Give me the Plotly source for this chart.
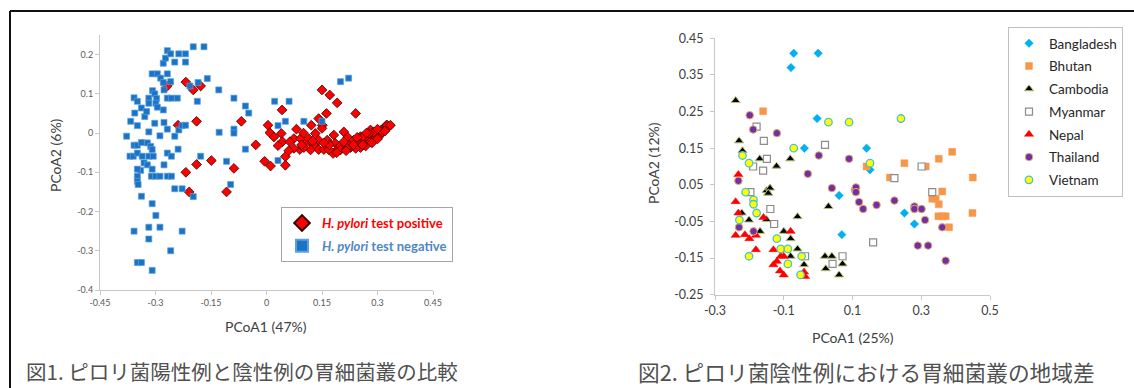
import plotly.graph_objects as go

# ---------------- Figure 1 data (PCoA, H. pylori positive / negative) ----------------
pos_x = [-0.268, -0.218, -0.198, -0.178, -0.239, -0.189, -0.068, -0.029, -0.218, -0.189, -0.149, -0.088, -0.209, -0.108,
         0.150, 0.171, 0.191, 0.241, 0.162, 0.141, 0.151, 0.121, 0.042, 0.004, 0.009, 0.020, 0.040, 0.043, 0.031,
         0.081, 0.074, 0.092, 0.063, 0.090, 0.074, 0.051, 0.051, -0.005, 0.011,
         0.110, 0.128, 0.141, 0.155, 0.164, 0.182, 0.186, 0.191, 0.200, 0.209, 0.220, 0.227, 0.236, 0.245, 0.254,
         0.263, 0.272, 0.281, 0.290, 0.281, 0.299, 0.308, 0.317, 0.324, 0.330, 0.310, 0.304, 0.254, 0.227, 0.200,
         0.180, 0.168, 0.119, 0.101, 0.114, 0.141, 0.164, 0.132, 0.150, 0.209, 0.218, 0.241, 0.268, 0.294, 0.313,
         0.326, 0.290, 0.277, 0.261, 0.245, 0.190, 0.215, 0.235, 0.260, 0.285, 0.300, 0.320, 0.335, 0.300, 0.270,
         0.170, 0.155, 0.125, 0.095, 0.100, 0.060]
pos_y = [0.120, 0.130, 0.110, 0.120, 0.020, 0.030, 0.030, -0.030, -0.100, -0.080, -0.070, -0.090, -0.150, -0.150,
         0.110, 0.097, 0.077, 0.050, 0.050, 0.037, 0.020, 0.020, 0.059, 0.020, 0.001, -0.010, -0.001, -0.022, -0.032,
         0.010, -0.014, -0.014, -0.022, -0.042, -0.039, -0.060, -0.082, -0.072, -0.084,
         -0.022, -0.031, -0.042, -0.042, -0.022, -0.005, -0.026, -0.043, -0.033, 0.003, -0.011, -0.026, -0.018, -0.031, -0.009,
         -0.022, -0.011, -0.022, -0.005, 0.008, 0.003, -0.002, 0.012, 0.020, 0.016, 0.008, -0.009, -0.037, -0.037, -0.043,
         -0.052, -0.042, -0.043, -0.037, -0.014, -0.018, -0.018, -0.001, 0.012, -0.022, -0.039, -0.039, -0.033, -0.014, 0.003,
         0.020, 0.003, -0.001, -0.009, -0.011, -0.050, -0.045, -0.030, -0.030, -0.025, -0.015, 0.005, 0.020, 0.010, 0.000,
         -0.030, -0.025, -0.020, -0.030, 0.000, -0.045]

neg_x = [-0.378, -0.367, -0.358, -0.349, -0.356, -0.349, -0.338, -0.329, -0.324, -0.318, -0.318, -0.308, -0.302, -0.297,
         -0.299, -0.295, -0.309, -0.295, -0.286, -0.279, -0.268, -0.259, -0.279, -0.273, -0.268, -0.259, -0.237, -0.248,
         -0.219, -0.219, -0.198, -0.169, -0.207, -0.185, -0.160, -0.187, -0.178, -0.129, -0.088, -0.057, -0.048, -0.277,
         -0.268, -0.257, -0.241, -0.279, -0.277, -0.268, -0.248, -0.237, -0.228, -0.219, -0.318, -0.288, -0.302, -0.128,
         -0.088, -0.088, -0.057, -0.239,
         -0.369, -0.360, -0.358, -0.349, -0.338, -0.349, -0.336, -0.318, -0.306, -0.322, -0.313, -0.309, -0.331, -0.322,
         -0.340, -0.349, -0.309, -0.311, -0.300, -0.288, -0.268, -0.257, -0.277, -0.268, -0.257, -0.108, -0.097, -0.349,
         -0.349, -0.347, -0.338,
         -0.299, -0.358, -0.318, -0.288, -0.318, -0.228, -0.259, -0.349, -0.338, -0.309, -0.248, -0.228, -0.198, -0.309,
         0.022, 0.061, 0.031, 0.051, 0.101, 0.031, 0.150, 0.200, 0.222]
neg_y = [-0.008, 0.030, 0.090, 0.081, 0.051, 0.019, 0.064, 0.042, 0.055, 0.089, 0.076, 0.108, 0.100, 0.088,
         0.076, 0.066, 0.151, 0.151, 0.140, 0.129, 0.151, 0.131, 0.178, 0.191, 0.210, 0.202, 0.202, 0.181,
         0.202, 0.181, 0.220, 0.220, 0.120, 0.129, 0.139, 0.081, -0.059, 0.110, 0.089, 0.069, 0.051, 0.110,
         0.089, 0.089, 0.089, 0.059, 0.027, 0.010, -0.008, 0.008, 0.019, 0.020, 0.003, -0.007, 0.025, 0.002,
         0.010, 0.000, -0.041, -0.041,
         -0.059, -0.059, -0.031, -0.031, -0.024, -0.051, -0.059, -0.059, -0.059, -0.025, -0.034, -0.042, -0.076, -0.081,
         -0.095, -0.092, -0.092, -0.110, -0.110, -0.110, -0.110, -0.110, -0.081, -0.051, -0.059, -0.072, -0.131, -0.110,
         -0.123, -0.131, -0.161,
         -0.210, -0.250, -0.240, -0.240, -0.270, -0.250, -0.300, -0.330, -0.330, -0.350, -0.142, -0.142, -0.162, -0.180,
         0.081, 0.081, 0.019, 0.030, 0.030, -0.070, 0.030, 0.131, 0.140]

fig1_xticks = [-0.45, -0.3, -0.15, 0, 0.15, 0.3, 0.45]
fig1_xtext = ["-0.45", "-0.3", "-0.15", "0", "0.15", "0.3", "0.45"]
fig1_yticks = [-0.4, -0.3, -0.2, -0.1, 0, 0.1, 0.2]
fig1_ytext = ["-0.4", "-0.3", "-0.2", "-0.1", "0", "0.1", "0.2"]

# ---------------- Figure 2 data (PCoA, H. pylori negative by country) ----------------
bangladesh_x = [-0.071, 0.000, -0.079, -0.003, -0.040, 0.061, 0.069, 0.141, 0.151, 0.251, 0.280]
bangladesh_y = [0.409, 0.409, 0.370, 0.231, 0.150, 0.021, -0.086, 0.150, 0.091, -0.027, -0.057]

bhutan_x = [-0.160, 0.141, 0.251, 0.313, 0.351, 0.390, 0.450, 0.209, 0.361, 0.332, 0.342, 0.351, 0.350, 0.361,
            0.371, 0.381, 0.449]
bhutan_y = [0.251, 0.100, 0.109, 0.100, 0.121, 0.140, 0.070, 0.070, 0.032, 0.012, 0.012, -0.003, -0.036, -0.036,
            -0.036, -0.066, -0.027]

cambodia_x = [-0.240, -0.230, -0.220, -0.170, -0.081, -0.121, -0.150, -0.140, -0.145, -0.222, -0.201, -0.150, -0.060,
              -0.169, -0.100, -0.080, -0.060, -0.080, -0.041, 0.020, 0.040, 0.022, 0.061, 0.071, 0.030]
cambodia_y = [0.280, 0.170, 0.143, 0.121, 0.121, 0.101, 0.034, 0.041, 0.027, -0.027, -0.046, -0.045, -0.037,
              -0.077, -0.077, -0.097, -0.125, -0.145, -0.168, -0.145, -0.145, -0.179, -0.196, -0.166, -0.009]

myanmar_x = [-0.179, -0.158, 0.020, -0.149, -0.189, -0.160, -0.197, -0.139, -0.128, -0.038, 0.042, 0.071, 0.301,
             0.222, 0.332, 0.160]
myanmar_y = [0.209, 0.170, 0.159, 0.121, 0.100, 0.089, 0.030, -0.016, -0.057, -0.145, -0.166, -0.145, 0.100,
             0.068, 0.030, -0.107]

nepal_x = [-0.232, -0.240, -0.232, -0.159, -0.240, -0.213, -0.200, -0.181, -0.181, -0.080, -0.130, -0.109, -0.100,
           -0.120, -0.130, -0.111, -0.100, -0.041, -0.038]
nepal_y = [0.078, 0.004, -0.027, -0.039, -0.088, -0.086, -0.097, -0.088, -0.127, -0.077, -0.127, -0.145, -0.145,
           -0.159, -0.168, -0.185, -0.196, -0.188, -0.200]

thailand_x = [-0.199, -0.189, -0.120, 0.002, 0.090, -0.030, -0.232, -0.230, -0.188, 0.040, 0.107, 0.110, 0.110,
              0.119, 0.131, 0.170, 0.222, 0.280, 0.280, 0.301, 0.311, 0.361, 0.290, 0.320, 0.371]
thailand_y = [0.240, 0.201, 0.191, 0.130, 0.121, 0.080, 0.061, -0.066, -0.077, 0.041, 0.036, 0.043, 0.030,
              0.003, -0.016, -0.005, 0.007, -0.009, -0.016, -0.016, -0.046, -0.066, -0.116, -0.116, -0.157]

vietnam_x = [0.030, 0.090, 0.241, -0.071, -0.220, -0.201, 0.151, -0.211, -0.188, -0.188, -0.179, -0.229, -0.120,
             -0.201, -0.109, -0.088, -0.088, -0.048, -0.051]
vietnam_y = [0.221, 0.221, 0.231, 0.150, 0.130, 0.109, 0.109, 0.030, 0.009, -0.003, -0.027, -0.046, -0.097,
             -0.145, -0.125, -0.125, -0.166, -0.145, -0.196]

fig2_xticks = [-0.3, -0.1, 0.1, 0.3, 0.5]
fig2_xtext = ["-0.3", "-0.1", "0.1", "0.3", "0.5"]
fig2_yticks = [-0.25, -0.15, -0.05, 0.05, 0.15, 0.25, 0.35, 0.45]
fig2_ytext = ["-0.25", "-0.15", "-0.05", "0.05", "0.15", "0.25", "0.35", "0.45"]

caption1 = "図1. ピロリ菌陽性例と陰性例の胃細菌叢の比較"
caption2 = "図2. ピロリ菌陰性例における胃細菌叢の地域差"

W, H = 1134, 388
def px(x):
    return x / W
def py(y):
    return 1 - y / H

FONT = "Lato, 'Open Sans', sans-serif"
JFONT = "'Noto Sans CJK JP', sans-serif"

fig = go.Figure()

# Figure 1 traces
fig.add_trace(go.Scatter(
    x=pos_x, y=pos_y, mode="markers", xaxis="x", yaxis="y", legend="legend", legendgroup="p",
    name="<span style='color:#ff0000'><b><i>H. pylori</i> test positive</b></span>",
    marker=dict(symbol="diamond", size=7.5, color="#ff0000", line=dict(color="#3c0000", width=0.8)),
    hoverinfo="skip"))
fig.add_trace(go.Scatter(
    x=neg_x, y=neg_y, mode="markers", xaxis="x", yaxis="y", legend="legend", legendgroup="n",
    name="<span style='color:#4f86c6'><b><i>H. pylori</i> test negative</b></span>",
    marker=dict(symbol="square", size=6, color="#1a73c4", line=dict(color="#5da0e0", width=0.7)),
    hoverinfo="skip"))

# Figure 2 traces
series2 = [
    ("Bangladesh", bangladesh_x, bangladesh_y, dict(symbol="diamond", size=6.5, color="#00b0f0", line=dict(color="#00b0f0", width=0.5))),
    ("Bhutan", bhutan_x, bhutan_y, dict(symbol="square", size=7, color="#f79646", line=dict(color="#f7a060", width=0.5))),
    ("Cambodia", cambodia_x, cambodia_y, dict(symbol="triangle-up", size=8, color="#000000", line=dict(color="#b5c47a", width=1))),
    ("Myanmar", myanmar_x, myanmar_y, dict(symbol="square", size=7, color="#ffffff", line=dict(color="#8c8c8c", width=1.2))),
    ("Nepal", nepal_x, nepal_y, dict(symbol="triangle-up", size=8, color="#ff0000", line=dict(color="#ff0000", width=0.5))),
    ("Thailand", thailand_x, thailand_y, dict(symbol="circle", size=7.5, color="#7030a0", line=dict(color="#e8a878", width=1))),
    ("Vietnam", vietnam_x, vietnam_y, dict(symbol="circle", size=7.5, color="#ffff00", line=dict(color="#4bc0d0", width=1.3))),
]
for i, (name, xs, ys, mk) in enumerate(series2):
    fig.add_trace(go.Scatter(x=xs, y=ys, mode="markers", name=name, xaxis="x2", yaxis="y2",
                             legend="legend2", legendgroup="g%d" % i, marker=mk, hoverinfo="skip"))

axis_common = dict(showgrid=False, zeroline=False, showline=True, linecolor="#c8c8c8", linewidth=1,
                   ticks="outside", ticklen=4, tickcolor="#c8c8c8", tickmode="array", automargin=False)

fig.update_layout(
    width=W, height=H,
    margin=dict(l=0, r=0, t=0, b=0, autoexpand=False),
    paper_bgcolor="white", plot_bgcolor="white",
    showlegend=True,
    xaxis=dict(domain=[px(100), px(433)], range=[-0.45, 0.45], anchor="y",
               tickvals=fig1_xticks, ticktext=fig1_xtext,
               tickfont=dict(family=FONT, size=9, color="#595959"), **axis_common),
    yaxis=dict(domain=[py(290), py(35)], range=[-0.4, 0.25], anchor="x",
               tickvals=fig1_yticks, ticktext=fig1_ytext,
               tickfont=dict(family=FONT, size=9, color="#595959"), **axis_common),
    xaxis2=dict(domain=[px(715), px(990)], range=[-0.3, 0.5], anchor="y2",
                tickvals=fig2_xticks, ticktext=fig2_xtext,
                tickfont=dict(family=FONT, size=12.5, color="#404040"), **axis_common),
    yaxis2=dict(domain=[py(294.7), py(38.3)], range=[-0.25, 0.45], anchor="x2",
                tickvals=fig2_yticks, ticktext=fig2_ytext, ticklabelstandoff=4,
                tickfont=dict(family=FONT, size=12.5, color="#404040"), **axis_common),
    legend=dict(x=px(281), y=py(207), xanchor="left", yanchor="top",
                bgcolor="white", bordercolor="#a6a6a6", borderwidth=1,
                font=dict(family=FONT, size=13), itemsizing="constant", tracegroupgap=3),
    legend2=dict(x=px(1008), y=py(27), xanchor="left", yanchor="top",
                 bgcolor="white", bordercolor="#c0c0c0", borderwidth=1,
                 font=dict(family=FONT, size=13.5, color="#262626"), tracegroupgap=2.2),
    shapes=[
        dict(type="line", xref="paper", yref="paper", x0=px(10), x1=1, y0=py(11), y1=py(11),
             line=dict(color="#111111", width=2)),
        dict(type="line", xref="paper", yref="paper", x0=px(10), x1=px(10), y0=0, y1=py(11),
             line=dict(color="#111111", width=2)),
    ],
    annotations=[
        dict(text="PCoA1 (47%)", x=px(266), y=py(326), xref="paper", yref="paper", showarrow=False,
             font=dict(family=FONT, size=14, color="#404040"), xanchor="center", yanchor="middle"),
        dict(text="PCoA2 (6%)", x=px(55), y=py(155), xref="paper", yref="paper", showarrow=False, textangle=-90,
             font=dict(family=FONT, size=14, color="#404040"), xanchor="center", yanchor="middle"),
        dict(text="PCoA1 (25%)", x=px(853), y=py(337), xref="paper", yref="paper", showarrow=False,
             font=dict(family=FONT, size=14, color="#404040"), xanchor="center", yanchor="middle"),
        dict(text="PCoA2 (12%)", x=px(653), y=py(163), xref="paper", yref="paper", showarrow=False, textangle=-90,
             font=dict(family=FONT, size=14, color="#404040"), xanchor="center", yanchor="middle"),
        dict(text=caption1, x=px(24), y=py(371), xref="paper", yref="paper", showarrow=False,
             font=dict(family=JFONT, size=20.5, color="#505050"), xanchor="left", yanchor="middle"),
        dict(text=caption2, x=px(636), y=py(371), xref="paper", yref="paper", showarrow=False,
             font=dict(family=JFONT, size=21.7, color="#505050"), xanchor="left", yanchor="middle"),
    ],
)

fig.write_html("out.html", config={"displayModeBar": False},
               post_script="document.body.style.margin='0';document.body.style.overflow='hidden';")
